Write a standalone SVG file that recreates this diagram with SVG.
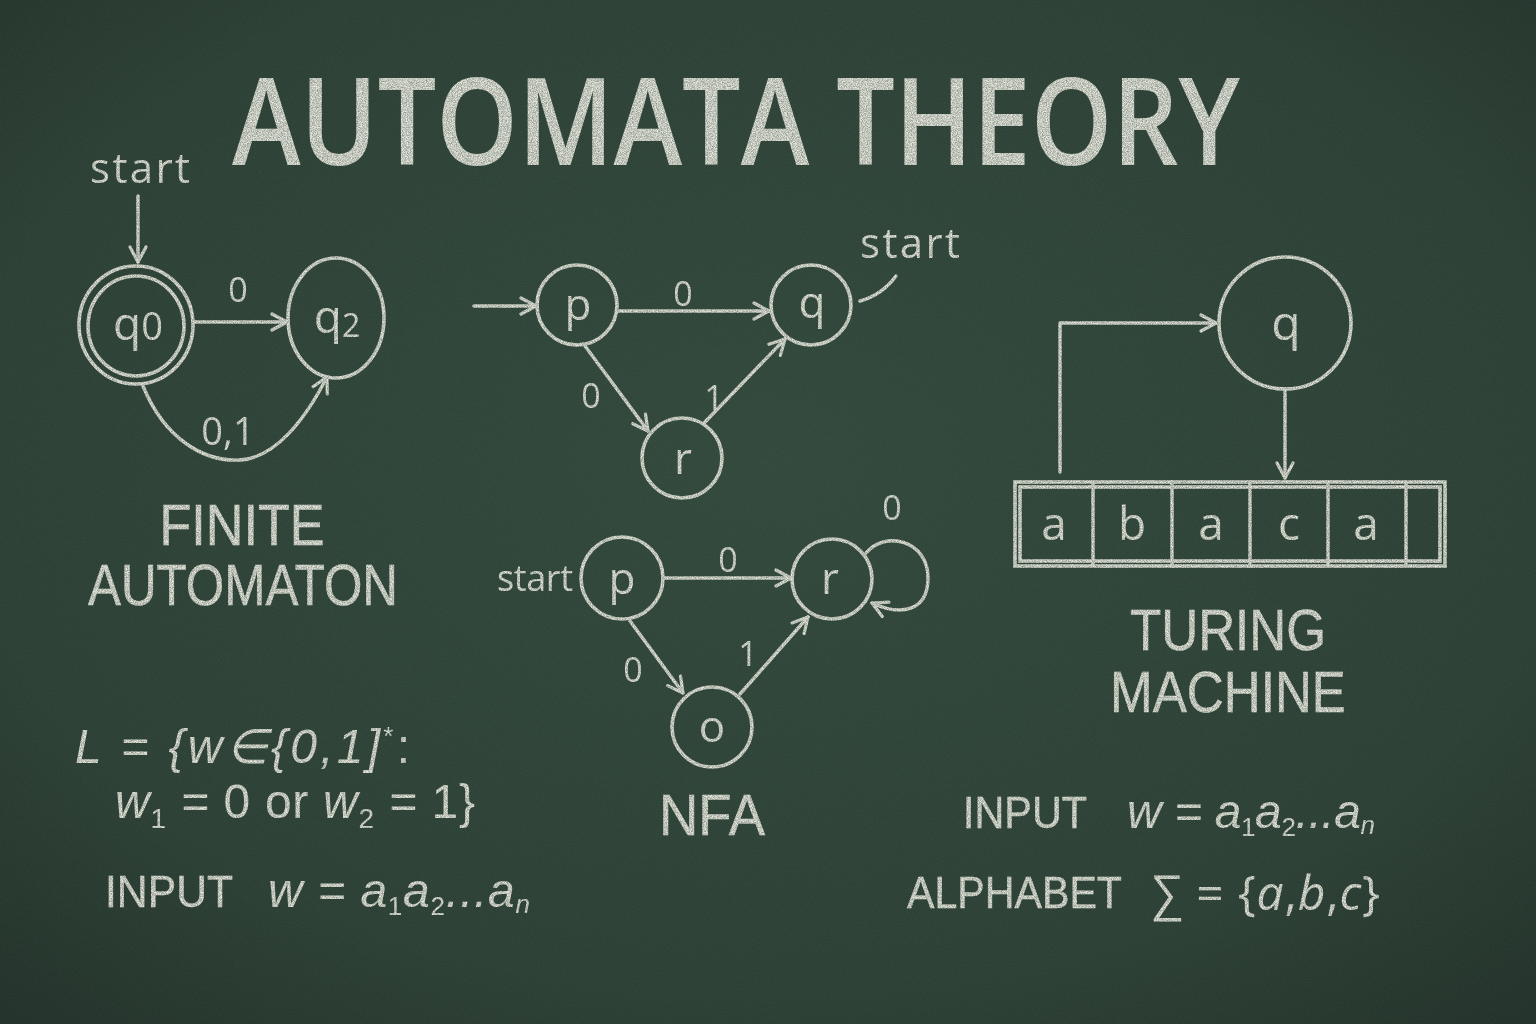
<svg xmlns="http://www.w3.org/2000/svg" width="1536" height="1024" viewBox="0 0 1536 1024">
<defs>
  <radialGradient id="bg" cx="50%" cy="45%" r="75%">
    <stop offset="0" stop-color="#2e4538"/>
    <stop offset="0.7" stop-color="#283c31"/>
    <stop offset="1" stop-color="#1e2d25"/>
  </radialGradient>
  <filter id="grain" x="0" y="0" width="100%" height="100%">
    <feTurbulence type="fractalNoise" baseFrequency="0.9" numOctaves="2" seed="3" result="n"/>
    <feColorMatrix in="n" type="matrix" values="0 0 0 0 1  0 0 0 0 1  0 0 0 0 1  0 0 0 0.06 0"/>
  </filter>
  <filter id="chalk" x="-5%" y="-5%" width="110%" height="110%">
    <feTurbulence type="fractalNoise" baseFrequency="1.2" numOctaves="1" seed="7" result="t"/>
    <feColorMatrix in="t" type="matrix" values="0 0 0 0 0  0 0 0 0 0  0 0 0 0 0  0 0 0 -1.1 1.35" result="m"/>
    <feComposite in="SourceGraphic" in2="m" operator="in"/>
  </filter>
  <marker id="arr" viewBox="0 0 20 20" refX="18" refY="10" markerWidth="20" markerHeight="20" markerUnits="userSpaceOnUse" orient="auto">
    <path d="M3,2 L18,10 L3,18" fill="none" stroke="#e4e4da" stroke-width="3.2" stroke-linecap="round" stroke-linejoin="round"/>
  </marker>
</defs>
<style>
  .ln{fill:none;stroke:#e4e4da;stroke-width:3.4;stroke-linecap:round;stroke-linejoin:round}
  .st{fill:none;stroke:#e4e4da;stroke-width:3.6}
  .tx{fill:#e6e6dc;font-family:"Open Sans","DejaVu Sans",sans-serif}
  .lb{font-size:44px;text-anchor:middle}
  .sm{font-size:34px;text-anchor:middle}
  .hd{font-family:"Liberation Sans",Arial,sans-serif;font-size:57px;text-anchor:middle;stroke:#e6e6dc;stroke-width:0.5}
  .mt{font-family:"Liberation Sans",Arial,sans-serif;font-style:italic;font-size:48px}
  .cap{font-family:"Liberation Sans",Arial,sans-serif;stroke:#e6e6dc;stroke-width:0.4}
</style>
<rect width="1536" height="1024" fill="url(#bg)"/>
<rect width="1536" height="1024" filter="url(#grain)"/>

<g filter="url(#chalk)">
<text id="title" class="tx" x="232" y="165" font-size="122" font-weight="600" textLength="1008" lengthAdjust="spacingAndGlyphs">AUTOMATA THEORY</text>

<!-- Finite automaton -->
<g id="fa-q0">
  <ellipse class="st" cx="136" cy="325" rx="57" ry="59"/>
  <ellipse class="st" cx="136" cy="326" rx="48" ry="50"/>
  <text class="tx" x="138" y="340" font-size="46" text-anchor="middle">q<tspan font-size="38">0</tspan></text>
</g>
<g id="fa-q2">
  <ellipse class="st" cx="336" cy="318" rx="48" ry="60"/>
  <text class="tx" x="337" y="333" font-size="46" text-anchor="middle">q<tspan font-size="32" dy="4">2</tspan></text>
</g>
<g id="fa-start"><text class="tx" x="140" y="183" font-size="42" text-anchor="middle" textLength="100">start</text></g>
<g id="fa-label">
  <text class="tx hd" x="242" y="545" textLength="165" lengthAdjust="spacingAndGlyphs">FINITE</text>
  <text class="tx hd" x="243" y="605" textLength="310" lengthAdjust="spacingAndGlyphs">AUTOMATON</text>
</g>

<!-- DFA middle top -->
<g id="d-p"><circle class="st" cx="577" cy="305" r="40"/><text class="tx lb" x="578" y="320">p</text></g>
<g id="d-q"><circle class="st" cx="811" cy="305" r="40"/><text class="tx lb" x="812" y="318">q</text></g>
<g id="d-r"><circle class="st" cx="682" cy="458" r="40"/><text class="tx lb" x="683" y="474">r</text></g>
<g id="d-start"><text class="tx" x="910" y="258" font-size="42" text-anchor="middle" textLength="100">start</text></g>

<!-- NFA -->
<g id="n-p"><circle class="st" cx="622" cy="578" r="41"/><text class="tx lb" x="622" y="594">p</text></g>
<g id="n-r"><circle class="st" cx="832" cy="579" r="40"/><text class="tx lb" x="830" y="594">r</text></g>
<g id="n-o"><circle class="st" cx="712" cy="727" r="40"/><text class="tx lb" x="712" y="742">o</text></g>
<g id="n-start"><text class="tx" x="535" y="591" font-size="36" text-anchor="middle" textLength="76">start</text></g>
<g id="n-label"><text class="tx hd" x="712" y="835" textLength="106" lengthAdjust="spacingAndGlyphs">NFA</text></g>

<!-- Turing machine -->
<g id="tm-q"><circle class="st" cx="1285" cy="323" r="66"/><text class="tx" x="1286" y="340" font-size="48" text-anchor="middle">q</text></g>
<g id="tm-tape">
  <rect class="st" x="1015" y="482" width="430" height="84"/>
  <rect class="st" x="1020" y="487" width="420" height="74" stroke-width="2.6"/>
  <path class="ln" d="M1093,482V566M1172,482V566M1250,482V566M1328,482V566M1406,482V566"/>
  <text class="tx" y="540" font-size="46" text-anchor="middle"><tspan x="1054">a</tspan><tspan x="1132">b</tspan><tspan x="1211">a</tspan><tspan x="1289">c</tspan><tspan x="1366">a</tspan></text>
</g>
<g id="tm-label">
  <text class="tx hd" x="1228" y="650" textLength="196" lengthAdjust="spacingAndGlyphs">TURING</text>
  <text class="tx hd" x="1228" y="712" textLength="236" lengthAdjust="spacingAndGlyphs">MACHINE</text>
</g>

<!-- formulas -->
<g id="lang">
  <text class="tx mt" x="75" y="763" textLength="335">L = {w∈{0,1]<tspan font-size="26" dy="-18" font-style="normal">*</tspan><tspan dy="18" font-style="normal">:</tspan></text>
  <text class="tx mt" x="115" y="818" textLength="360">w<tspan font-size="28" dy="10" font-style="normal">1</tspan><tspan dy="-10"> = </tspan><tspan font-style="normal">0</tspan><tspan font-style="normal"> or </tspan>w<tspan font-size="28" dy="10" font-style="normal">2</tspan><tspan dy="-10"> = </tspan><tspan font-style="normal">1}</tspan></text>
</g>
<g id="input-left">
  <text class="tx cap" x="105" y="907" font-size="45" textLength="128" lengthAdjust="spacingAndGlyphs">INPUT</text>
  <text class="tx mt" x="268" y="907" font-size="44" textLength="262">w = a<tspan font-size="26" dy="8" font-style="normal">1</tspan><tspan dy="-8">a</tspan><tspan font-size="26" dy="8" font-style="normal">2</tspan><tspan dy="-8">...a</tspan><tspan font-size="26" dy="6">n</tspan></text>
</g>
<g id="input-right">
  <text class="tx cap" x="963" y="828" font-size="45" textLength="124" lengthAdjust="spacingAndGlyphs">INPUT</text>
  <text class="tx mt" x="1127" y="828" font-size="44" textLength="248">w = a<tspan font-size="26" dy="8" font-style="normal">1</tspan><tspan dy="-8">a</tspan><tspan font-size="26" dy="8" font-style="normal">2</tspan><tspan dy="-8">...a</tspan><tspan font-size="26" dy="6">n</tspan></text>
</g>
<g id="alphabet">
  <text class="tx cap" x="907" y="908" font-size="45" textLength="215" lengthAdjust="spacingAndGlyphs">ALPHABET</text>
  <text class="tx" x="1152" y="910" font-size="48" textLength="228">∑ = {<tspan font-style="italic">a</tspan>,<tspan font-style="italic">b</tspan>,<tspan font-style="italic">c</tspan>}</text>
</g>

<!-- connectors -->
<g id="connectors">
  <path class="ln" d="M138,196V262" marker-end="url(#arr)"/>
  <path class="ln" d="M194,322H287" marker-end="url(#arr)"/>
  <path class="ln" d="M143,386 C165,440 205,462 240,460 C275,458 305,420 327,377" marker-end="url(#arr)"/>
  <text class="tx sm" x="238" y="302">0</text>
  <text class="tx" x="228" y="445" font-size="38" text-anchor="middle">0,1</text>

  <path class="ln" d="M474,306H536" marker-end="url(#arr)"/>
  <path class="ln" d="M618,311H769" marker-end="url(#arr)"/>
  <path class="ln" d="M585,346L648,431" marker-end="url(#arr)"/>
  <path class="ln" d="M705,422L785,339" marker-end="url(#arr)"/>
  <path class="ln" d="M860,301 Q882,295 896,276"/>
  <text class="tx sm" x="683" y="306">0</text>
  <text class="tx sm" x="591" y="408">0</text>
  <text class="tx sm" x="714" y="410">1</text>

  <path class="ln" d="M663,578H791" marker-end="url(#arr)"/>
  <path class="ln" d="M630,621L683,693" marker-end="url(#arr)"/>
  <path class="ln" d="M740,694L808,617" marker-end="url(#arr)"/>
  <path class="ln" d="M866,553 C885,530 928,540 928,578 C928,612 900,616 872,603" marker-end="url(#arr)"/>
  <text class="tx sm" x="728" y="572">0</text>
  <text class="tx sm" x="633" y="682">0</text>
  <text class="tx sm" x="748" y="666">1</text>
  <text class="tx sm" x="892" y="520">0</text>

  <path class="ln" d="M1060,472V323H1216" marker-end="url(#arr)"/>
  <path class="ln" d="M1285,390V478" marker-end="url(#arr)"/>
</g>
</g>
</svg>
